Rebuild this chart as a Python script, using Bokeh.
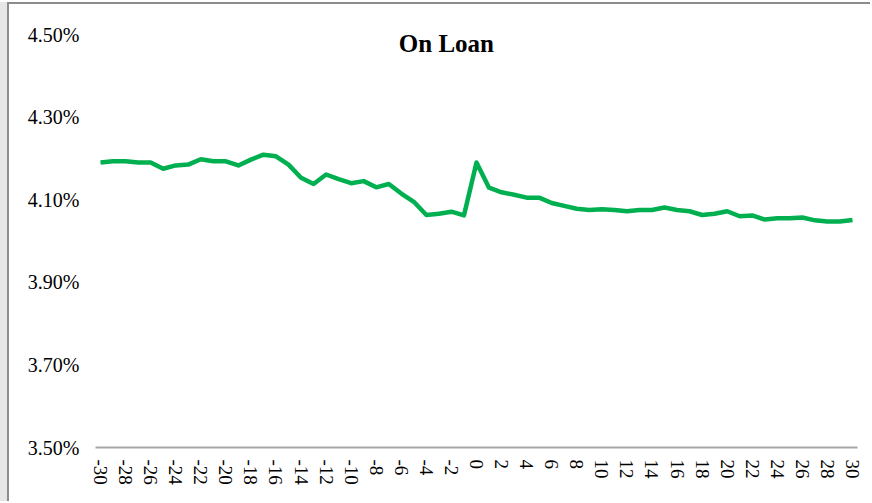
from bokeh.plotting import figure
from bokeh.models import (Range1d, FixedTicker, PrintfTickFormatter, Label,
                          InlineStyleSheet)
from bokeh.embed import file_html
from bokeh.resources import INLINE

# Data
days = list(range(-30, 31))
on_loan = [
    4.190, 4.193, 4.193, 4.190, 4.190, 4.175, 4.183, 4.185, 4.198, 4.193,
    4.193, 4.183, 4.197, 4.209, 4.205, 4.185, 4.153, 4.138, 4.161, 4.150,
    4.140, 4.145, 4.130, 4.138, 4.115, 4.095, 4.063, 4.066, 4.071, 4.062,
    4.190, 4.129, 4.118, 4.112, 4.105, 4.105, 4.092, 4.085, 4.078, 4.075,
    4.077, 4.075, 4.072, 4.075, 4.075, 4.081, 4.075, 4.072, 4.063, 4.066,
    4.072, 4.060, 4.062, 4.052, 4.055, 4.055, 4.057, 4.050, 4.047, 4.047,
    4.051,
]
y_ticks = [3.5, 3.7, 3.9, 4.1, 4.3, 4.5]
x_ticks = list(range(-30, 31, 2))
title_text = "On Loan"

FONT = "Liberation Serif"

frame_css = InlineStyleSheet(css="""
:host {
  margin-left: 7px;
  margin-top: 2px;
  border-left: 2px solid #8c8c8c;
  border-top: 2px solid #8c8c8c;
  box-shadow: -9px 0 0 0 #e6e6e6;
}
""")

p = figure(width=863, height=499, output_backend="svg", toolbar_location=None,
           x_range=Range1d(-30.4, 30.4), y_range=Range1d(3.5, 4.5),
           min_border_left=86, min_border_right=15, min_border_top=30,
           min_border_bottom=56, stylesheets=[frame_css])
p.background_fill_color = "white"
p.border_fill_color = "white"
p.outline_line_color = None
p.grid.visible = False

p.line(days, on_loan, line_color="#00B050", line_width=4.5, line_join="round")

# y axis
ya = p.yaxis[0]
ya.ticker = FixedTicker(ticks=y_ticks)
ya.formatter = PrintfTickFormatter(format="%.2f%%")
ya.axis_line_color = None
ya.major_tick_line_color = None
ya.minor_tick_line_color = None
ya.major_tick_out = 0
ya.major_label_standoff = 16
ya.major_label_text_font = FONT
ya.major_label_text_font_size = "20px"
ya.major_label_text_color = "black"

# x axis
xa = p.xaxis[0]
xa.ticker = FixedTicker(ticks=x_ticks)
xa.formatter = PrintfTickFormatter(format="%d")
xa.axis_line_color = "#a6a6a6"
xa.axis_line_width = 2
xa.major_tick_line_color = None
xa.minor_tick_line_color = None
xa.major_tick_out = 0
xa.major_label_standoff = 12
xa.major_label_orientation = "vertical"
xa.major_label_text_font = FONT
xa.major_label_text_font_size = "19px"
xa.major_label_text_color = "black"

# title inside the chart area
p.add_layout(Label(x=-2.4, y=4.478, text=title_text, text_align="center",
                   text_baseline="middle", text_font=FONT,
                   text_font_size="25px", text_font_style="bold",
                   text_color="black"))

open("out.html", "w").write(file_html(p, INLINE))
